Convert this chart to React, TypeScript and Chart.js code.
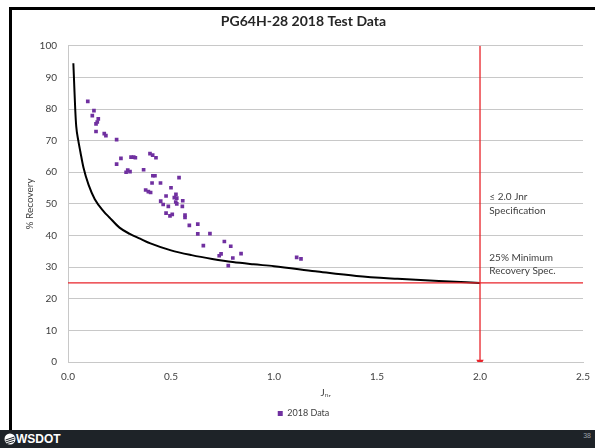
import React, { useEffect, useRef } from "react";
import { Chart, registerables } from "chart.js";

Chart.register(...registerables);

const chartTitle = "PG64H-28 2018 Test Data";
const seriesLabel = "2018 Data";
const xAxisTitle = "Jₙᵣ";
const yAxisTitle = "% Recovery";

// 2018 test data: Jnr values and % recovery values
const jnr2018 = [
  0.096, 0.126, 0.118, 0.147, 0.142, 0.136, 0.136, 0.176, 0.184, 0.236,
  0.257, 0.236, 0.306, 0.319, 0.327, 0.398, 0.411, 0.427, 0.282, 0.29,
  0.301, 0.367, 0.412, 0.422, 0.408, 0.449, 0.539, 0.377, 0.39, 0.401,
  0.5, 0.476, 0.524, 0.516, 0.528, 0.557, 0.523, 0.45, 0.462, 0.487,
  0.528, 0.555, 0.476, 0.495, 0.506, 0.568, 0.568, 0.589, 0.63, 0.63,
  0.689, 0.657, 0.759, 0.79, 0.743, 0.734, 0.84, 0.8, 0.778, 1.11, 1.131,
];
const recovery2018 = [
  82.4, 79.5, 77.9, 76.9, 75.9, 75.3, 72.9, 72.2, 71.6, 70.3,
  64.4, 62.6, 64.8, 64.8, 64.6, 65.9, 65.4, 64.6, 60.0, 60.7,
  60.2, 60.8, 58.9, 58.9, 56.6, 56.6, 58.3, 54.4, 53.9, 53.6,
  55.1, 52.5, 53.0, 52.0, 51.8, 51.0, 50.6, 50.9, 49.8, 49.2,
  50.0, 49.2, 47.1, 46.2, 46.7, 46.5, 45.7, 43.2, 43.6, 40.5,
  40.6, 36.8, 38.1, 36.6, 34.2, 33.6, 34.3, 32.9, 30.5, 33.1, 32.6,
];

// Minimum recovery curve
const curveJnr = [
  0.026, 0.03, 0.035, 0.04, 0.05, 0.06, 0.075, 0.1, 0.13, 0.175, 0.2, 0.25,
  0.3, 0.35, 0.4, 0.5, 0.6, 0.7, 0.8, 0.9, 1.0, 1.2, 1.4, 1.6, 1.8, 2.0,
];
const curveRecovery = [
  94.5, 88, 80, 74.5, 70, 66.5, 61.5, 56, 51.5, 47.5, 45.8, 42.5,
  40.5, 39, 37.5, 35.3, 33.8, 32.6, 31.6, 30.9, 30.3, 28.7, 27.2, 26.3, 25.6, 25,
];

// Specification limits
const minRecoverySpec = 25;
const maxJnrSpec = 2.0;
const xRange = [0, 2.5];
const yRange = [0, 100];
const xTickLabels = ["0.0", "0.5", "1.0", "1.5", "2.0", "2.5"];

const annotationLines = [
  { text: "≤ 2.0 Jnr", x: 2.045, y: 52.1 },
  { text: "Specification", x: 2.045, y: 47.7 },
  { text: "25% Minimum", x: 2.045, y: 33.1 },
  { text: "Recovery Spec.", x: 2.045, y: 28.7 },
];

const FONT = "Lato, 'Open Sans', sans-serif";
const RED = "#E8232A";
const PURPLE = "#7030A0";
const GRID = "#C8C8C8";
const TEXT = "#404040";

export default function App() {
  const ref = useRef<HTMLCanvasElement>(null);

  useEffect(() => {
    if (!ref.current) return;
    const annot = {
      id: "annot",
      afterDatasetsDraw(chart: any) {
        const { ctx, scales } = chart;
        ctx.save();
        ctx.font = `10px ${FONT}`;
        ctx.fillStyle = TEXT;
        ctx.textAlign = "left";
        ctx.textBaseline = "middle";
        annotationLines.forEach((a) => {
          ctx.fillText(a.text, scales.x.getPixelForValue(a.x), scales.y.getPixelForValue(a.y));
        });
        ctx.restore();
      },
    };

    const chart = new Chart(ref.current, {
      type: "scatter",
      data: {
        datasets: [
          {
            label: seriesLabel,
            data: jnr2018.map((x, i) => ({ x, y: recovery2018[i] })),
            pointStyle: "rect",
            pointRadius: 2.6,
            backgroundColor: PURPLE,
            borderColor: PURPLE,
            borderWidth: 0,
            order: 0,
          },
          {
            label: "curve",
            data: curveJnr.map((x, i) => ({ x, y: curveRecovery[i] })),
            showLine: true,
            borderColor: "#000000",
            borderWidth: 2,
            pointRadius: 0,
            cubicInterpolationMode: "monotone",
            order: 2,
          },
          {
            label: "minRecovery",
            data: [
              { x: xRange[0], y: minRecoverySpec },
              { x: xRange[1], y: minRecoverySpec },
            ],
            showLine: true,
            borderColor: RED,
            borderWidth: 1.3,
            pointRadius: 0,
            order: 1,
          },
          {
            label: "jnrSpec",
            data: [
              { x: maxJnrSpec, y: yRange[1] },
              { x: maxJnrSpec, y: yRange[0] },
            ],
            showLine: true,
            borderColor: RED,
            backgroundColor: RED,
            borderWidth: 1.3,
            pointStyle: "triangle",
            rotation: 180,
            pointRadius: (c: any) => (c.dataIndex === 1 ? 3 : 0),
            order: 1,
          },
        ],
      },
      options: {
        responsive: false,
        animation: false,
        events: [],
        layout: { padding: { left: 0, right: 4, top: 0, bottom: 2 } },
        plugins: {
          title: {
            display: true,
            text: chartTitle,
            color: "#262626",
            font: { family: FONT, size: 14, weight: "bold" },
            padding: { top: 3, bottom: 16 },
          },
          legend: {
            position: "bottom",
            labels: {
              filter: (item: any) => item.datasetIndex === 0,
              usePointStyle: true,
              pointStyle: "rect",
              boxWidth: 5,
              boxHeight: 5,
              font: { family: FONT, size: 9 },
              color: TEXT,
              padding: 10,
            },
          },
          tooltip: { enabled: false },
        },
        scales: {
          x: {
            type: "linear",
            min: xRange[0],
            max: xRange[1],
            afterFit: (s: any) => {
              s.height = 37;
            },
            ticks: {
              stepSize: 0.5,
              callback: (v: any, i: number) => xTickLabels[i],
              font: { family: FONT, size: 10 },
              color: TEXT,
              padding: 9,
            },
            grid: { display: false, drawTicks: false },
            border: { display: true, color: GRID, width: 1 },
            title: {
              display: true,
              text: xAxisTitle,
              font: { family: FONT, size: 10 },
              color: TEXT,
              padding: { top: 2, bottom: 0 },
            },
          },
          y: {
            type: "linear",
            min: yRange[0],
            max: yRange[1],
            afterFit: (s: any) => {
              s.width = 56;
            },
            ticks: {
              stepSize: 10,
              font: { family: FONT, size: 10 },
              color: TEXT,
              padding: 11,
            },
            grid: { color: GRID, drawTicks: false, lineWidth: 1 },
            border: { display: true, color: GRID, width: 1 },
            title: {
              display: true,
              text: yAxisTitle,
              font: { family: FONT, size: 10 },
              color: TEXT,
              padding: { top: 12, bottom: 0 },
            },
          },
        },
      },
      plugins: [annot],
    } as any);
    return () => chart.destroy();
  }, []);

  return (
    <div style={{ position: "absolute", left: 0, top: 0, width: 595, height: 448, background: "#fff", overflow: "hidden" }}>
      <div
        style={{
          position: "absolute",
          left: 9,
          top: 7,
          width: 620,
          height: 430,
          border: "3px solid #000",
          boxSizing: "border-box",
        }}
      />
      <canvas ref={ref} width={587} height={420} style={{ position: "absolute", left: 12, top: 10 }} />
      <div style={{ position: "absolute", left: 0, top: 430, width: 595, height: 18, background: "#1E2328" }}>
        <svg width="12" height="12" viewBox="0 0 12 12" style={{ position: "absolute", left: 4, top: 3 }}>
          <circle cx="6" cy="6" r="5.5" fill="#ffffff" />
          <path d="M1.5 7 L10.5 4 M1.5 9 L10.5 6 M3 10.5 L10 8.5" stroke="#1E2328" strokeWidth="1" />
        </svg>
        <span
          style={{
            position: "absolute",
            left: 16,
            top: 2,
            color: "#fff",
            fontFamily: "'Liberation Sans', Arial, sans-serif",
            fontWeight: 900,
            fontSize: 12,
            lineHeight: "14px",
          }}
        >
          WSDOT
        </span>
        <span
          style={{
            position: "absolute",
            right: 4,
            top: 1,
            color: "#9aa0a6",
            fontFamily: "'Liberation Sans', Arial, sans-serif",
            fontSize: 7,
            lineHeight: "9px",
          }}
        >
          38
        </span>
      </div>
    </div>
  );
}
